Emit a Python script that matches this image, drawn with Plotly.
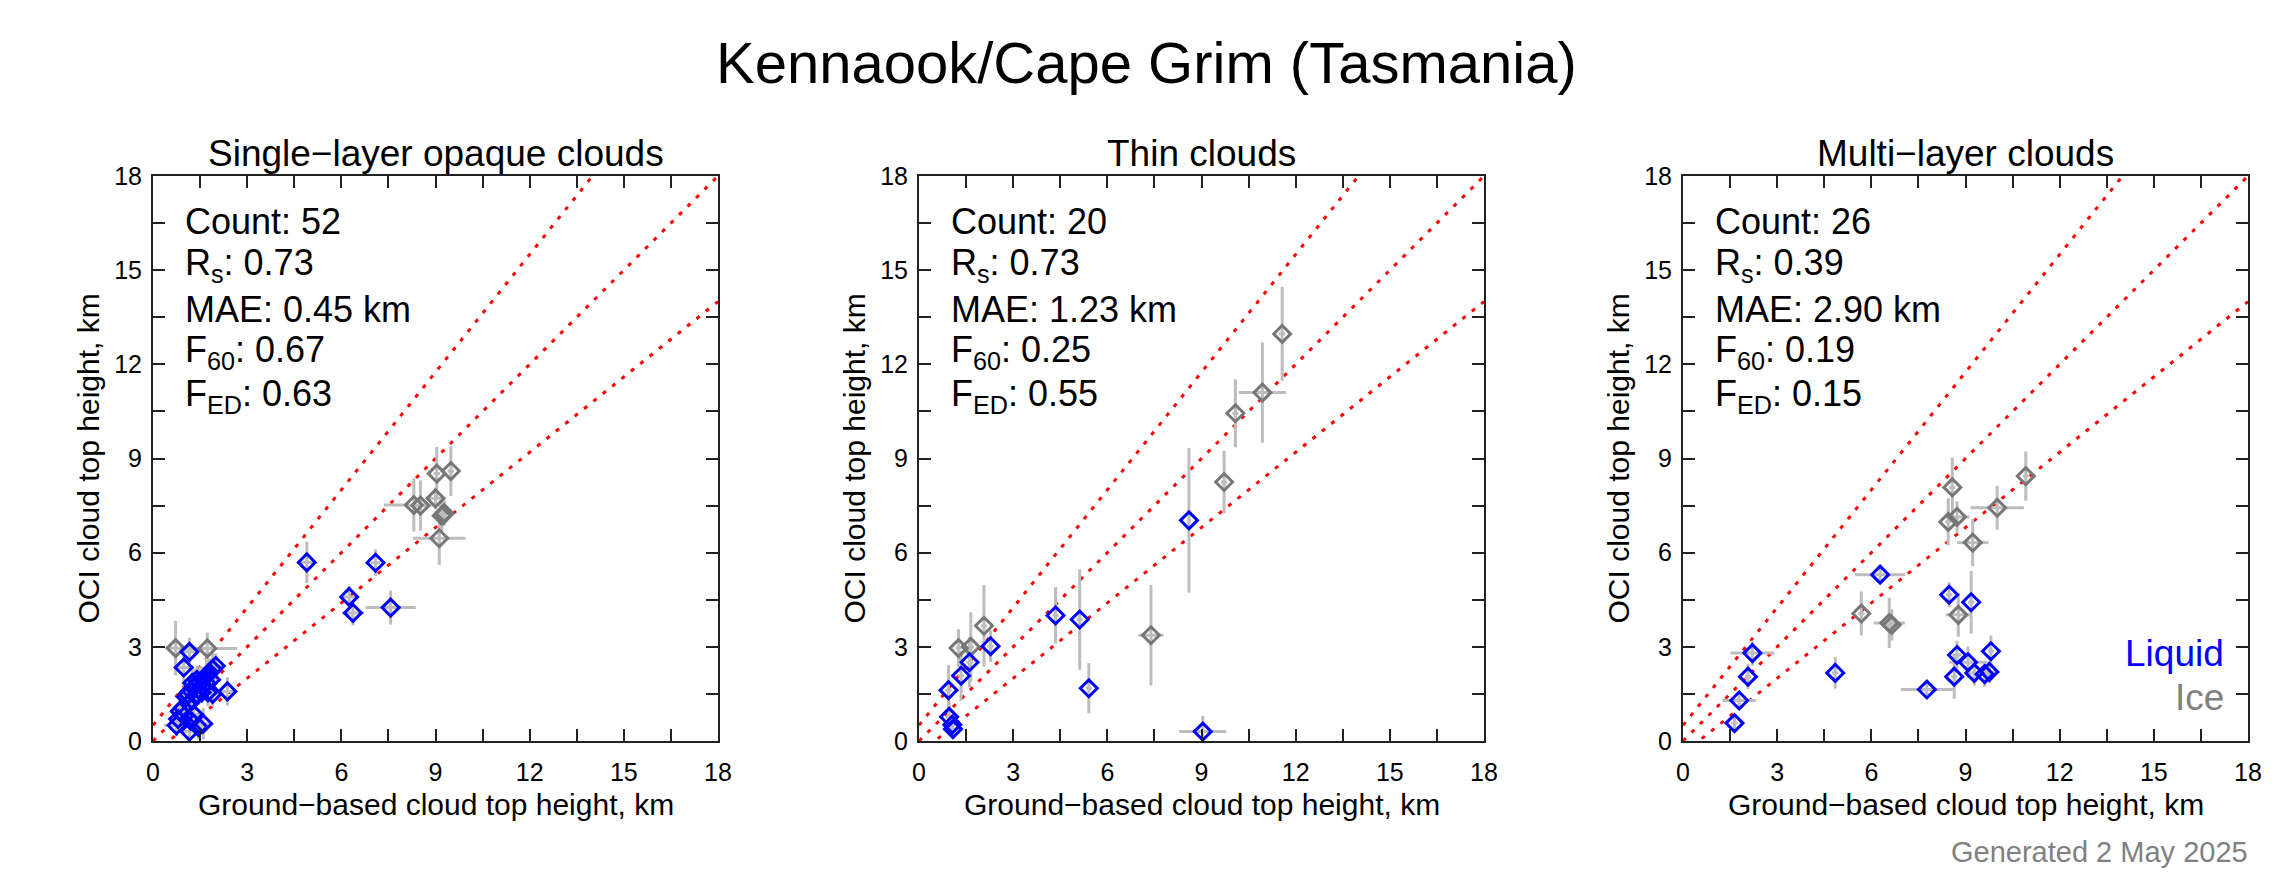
import plotly.graph_objects as go

# the page body has an 8px margin, so the figure is drawn 8px in from the corner
PAGE_W, PAGE_H, OFF = 2292, 887, 8
W, H = PAGE_W - 2 * OFF, PAGE_H - 2 * OFF
FONT = "Liberation Sans, Arial, Helvetica, sans-serif"

TITLE = "Kennaook/Cape Grim (Tasmania)"
PANEL_TITLES = ["Single\u2212layer opaque clouds", "Thin clouds", "Multi\u2212layer clouds"]
X_TITLE = "Ground\u2212based cloud top height, km"
Y_TITLE = "OCI cloud top height, km"
FOOTER = "Generated 2 May 2025"

TICK_VALS = [0, 3, 6, 9, 12, 15, 18]

# reference lines: (slope, intercept)
REF_LINES = [(1.25, 0.5), (1.0, 0.0), (0.8, -0.4)]

# stats per panel
COUNT = [52, 20, 26]
RS = [0.73, 0.73, 0.39]
MAE = [0.45, 1.23, 2.90]
F60 = [0.67, 0.25, 0.19]
FED = [0.63, 0.55, 0.15]

# ---- panel 1: single-layer opaque ----
p1_liq_x = [4.90, 7.09, 6.25, 6.37, 7.57, 1.16, 0.98, 2.37, 2.00, 1.90, 1.80, 1.70, 1.60, 1.50,
            1.40, 1.30, 1.20, 1.10, 1.05, 1.60, 1.45, 1.75, 1.90, 1.35, 1.25, 1.15, 1.55, 1.70,
            1.40, 0.95, 0.85, 0.80, 0.75, 1.16, 1.60, 1.45, 1.30, 1.20, 1.00, 1.85, 1.25]
p1_liq_y = [5.69, 5.68, 4.59, 4.08, 4.25, 2.84, 2.34, 1.58, 2.39, 2.29, 2.18, 2.08, 1.97, 1.88,
            1.80, 1.70, 1.60, 1.50, 1.40, 1.75, 1.65, 1.55, 1.50, 1.45, 1.30, 1.20, 1.55, 1.85,
            1.95, 1.05, 0.95, 0.70, 0.50, 0.30, 0.55, 0.45, 0.85, 0.65, 0.80, 1.95, 1.85]
p1_liq_xe = [0.20, 0.15, 0.20, 0.35, 0.80, 0.20, 0.20, 0.20, 0.25, 0.30, 0.20, 0.30, 0.25, 0.20,
             0.30, 0.20, 0.25, 0.30, 0.20, 0.25, 0.20, 0.30, 0.20, 0.25, 0.20, 0.30, 0.20, 0.25,
             0.20, 0.30, 0.25, 0.30, 0.40, 0.20, 0.30, 0.20, 0.25, 0.20, 0.30, 0.20, 0.25]
p1_liq_ye = [0.66, 0.42, 0.35, 0.40, 0.54, 0.45, 0.60, 0.45, 0.40, 0.50, 0.45, 0.55, 0.40, 0.50,
             0.45, 0.60, 0.40, 0.50, 0.45, 0.40, 0.50, 0.45, 0.40, 0.50, 0.45, 0.40, 0.35, 0.50,
             0.45, 0.40, 0.45, 0.40, 0.35, 0.30, 0.50, 0.40, 0.45, 0.35, 0.40, 0.45, 0.50]
p1_ice_x = [0.72, 1.73, 9.04, 9.49, 8.31, 8.52, 9.00, 9.20, 9.28, 9.25, 9.12]
p1_ice_y = [2.96, 2.95, 8.52, 8.60, 7.52, 7.50, 7.73, 7.18, 7.26, 7.20, 6.46]
p1_ice_xe = [0.30, 0.95, 0.10, 0.10, 0.95, 0.30, 0.30, 0.15, 0.10, 0.10, 0.84]
p1_ice_ye = [0.87, 0.50, 0.85, 0.80, 0.85, 0.80, 0.35, 0.50, 0.40, 0.30, 0.85]

# ---- panel 2: thin ----
p2_liq_x = [8.60, 4.35, 5.12, 5.41, 9.04, 2.28, 1.61, 1.34, 0.94, 0.96, 1.08, 1.06]
p2_liq_y = [7.03, 4.00, 3.87, 1.68, 0.30, 3.02, 2.51, 2.08, 1.62, 0.77, 0.38, 0.52]
p2_liq_xe = [0.05, 0.10, 0.10, 0.10, 0.75, 0.10, 0.10, 0.10, 0.10, 0.10, 0.10, 0.10]
p2_liq_ye = [2.30, 0.90, 1.60, 0.80, 0.50, 0.50, 0.80, 0.80, 0.80, 0.50, 0.30, 0.30]
p2_ice_x = [11.57, 10.94, 10.08, 9.72, 7.39, 2.07, 1.26, 1.65]
p2_ice_y = [12.97, 11.10, 10.44, 8.25, 3.37, 3.67, 2.96, 3.00]
p2_ice_xe = [0.10, 0.75, 0.10, 0.10, 0.40, 0.10, 0.10, 0.10]
p2_ice_ye = [1.50, 1.60, 1.08, 1.00, 1.60, 1.30, 0.60, 1.10]

# ---- panel 3: multi-layer ----
p3_liq_x = [6.28, 8.48, 9.18, 4.85, 7.77, 8.64, 8.73, 9.08, 9.28, 9.61, 9.76, 9.81, 2.21, 2.07, 1.79, 1.64]
p3_liq_y = [5.30, 4.66, 4.42, 2.17, 1.64, 2.05, 2.74, 2.51, 2.17, 2.13, 2.20, 2.86, 2.80, 2.05, 1.29, 0.57]
p3_liq_xe = [0.80, 0.10, 0.10, 0.10, 0.83, 0.10, 0.15, 0.60, 0.20, 0.30, 0.20, 0.10, 0.70, 0.10, 0.53, 0.10]
p3_liq_ye = [0.25, 0.40, 1.00, 0.50, 0.20, 0.70, 0.45, 0.50, 0.40, 0.40, 0.35, 0.50, 0.40, 0.40, 0.30, 0.30]
p3_ice_x = [10.92, 10.01, 8.58, 8.45, 8.73, 9.23, 5.68, 6.57, 6.65, 8.77]
p3_ice_y = [8.44, 7.43, 8.08, 6.98, 7.14, 6.32, 4.06, 3.76, 3.70, 4.02]
p3_ice_xe = [0.10, 0.85, 0.10, 0.10, 0.40, 0.50, 0.10, 0.50, 0.20, 0.40]
p3_ice_ye = [0.78, 0.70, 0.95, 0.75, 0.50, 0.75, 0.70, 0.80, 0.50, 0.70]

panels = [
    (p1_liq_x, p1_liq_y, p1_liq_xe, p1_liq_ye, p1_ice_x, p1_ice_y, p1_ice_xe, p1_ice_ye),
    (p2_liq_x, p2_liq_y, p2_liq_xe, p2_liq_ye, p2_ice_x, p2_ice_y, p2_ice_xe, p2_ice_ye),
    (p3_liq_x, p3_liq_y, p3_liq_xe, p3_liq_ye, p3_ice_x, p3_ice_y, p3_ice_xe, p3_ice_ye),
]

LIQ = "#0000ff"
ICE = "#777777"
ERR = "#bdbdbd"
AXC = "#222222"

# plot area pixel boxes (page coordinates)
LEFTS = [153, 919, 1683]
PW = 565
TOP, BOTTOM = 176, 741


def px(v):
    # page x pixel -> paper fraction
    return (v - OFF) / W


def py(v):
    # page y pixel -> paper fraction
    return 1 - (v - OFF) / H


fig = go.Figure()
layout = {}

for i, (lx, ly, lxe, lye, ix, iy, ixe, iye) in enumerate(panels):
    n = "" if i == 0 else str(i + 1)
    xa, ya = "x" + n, "y" + n
    axis_common = dict(
        range=[0, 18], tickvals=TICK_VALS, automargin=False,
        ticks="inside", ticklen=12, tickwidth=1.5, tickcolor=AXC,
        minor=dict(dtick=1.5, ticks="inside", ticklen=12, tickwidth=1.5, tickcolor=AXC),
        showline=True, linecolor=AXC, linewidth=2, mirror="allticks",
        showgrid=False, zeroline=False, tickfont=dict(size=25, color="black"),
    )
    layout["xaxis" + n] = dict(domain=[px(LEFTS[i]), px(LEFTS[i] + PW)], anchor=ya,
                               ticklabelstandoff=8, **axis_common)
    layout["yaxis" + n] = dict(domain=[py(BOTTOM), py(TOP)], anchor=xa,
                               ticklabelstandoff=4, **axis_common)

    # reference lines
    for slope, icpt in REF_LINES:
        fig.add_trace(go.Scatter(
            x=[0, 18], y=[icpt, slope * 18 + icpt], mode="lines", xaxis=xa, yaxis=ya,
            line=dict(color="red", width=3, dash="4px,8px"), showlegend=False, hoverinfo="skip",
        ))

    # error bars underneath all markers
    for xs, ys, xes, yes in [(lx, ly, lxe, lye), (ix, iy, ixe, iye)]:
        fig.add_trace(go.Scatter(
            x=xs, y=ys, mode="markers", xaxis=xa, yaxis=ya,
            marker=dict(size=1, color="rgba(0,0,0,0)"),
            error_x=dict(type="data", array=xes, color=ERR, thickness=3, width=0),
            error_y=dict(type="data", array=yes, color=ERR, thickness=3, width=0),
            showlegend=False, hoverinfo="skip",
        ))

    for xs, ys, col in [(ix, iy, ICE), (lx, ly, LIQ)]:
        fig.add_trace(go.Scatter(
            x=xs, y=ys, mode="markers", xaxis=xa, yaxis=ya,
            marker=dict(symbol="diamond-open", size=13, color=col, line=dict(width=3, color=col)),
            showlegend=False,
        ))

annotations = []
annotations.append(dict(
    text=TITLE, x=0.5 * (PAGE_W - 2 * OFF) / W, y=py(62), xref="paper", yref="paper",
    showarrow=False, font=dict(size=58, color="black"), xanchor="center", yanchor="middle",
))
for i in range(3):
    n = "" if i == 0 else str(i + 1)
    xd, yd = "x" + n + " domain", "y" + n + " domain"
    xa, ya = "x" + n, "y" + n
    annotations.append(dict(
        text=PANEL_TITLES[i], x=0.5, y=py(153), xref=xd, yref="paper", showarrow=False,
        font=dict(size=37, color="black"), xanchor="center", yanchor="middle",
    ))
    annotations.append(dict(
        text=X_TITLE, x=0.5, y=py(804), xref=xd, yref="paper", showarrow=False,
        font=dict(size=30, color="black"), xanchor="center", yanchor="middle",
    ))
    annotations.append(dict(
        text=Y_TITLE, x=px(LEFTS[i] - 65), y=0.5, xref="paper", yref=yd, showarrow=False,
        font=dict(size=30, color="black"), xanchor="center", yanchor="middle", textangle=-90,
    ))
    stats = [
        ("Count: %d" % COUNT[i], 16.55),
        ("R<sub>s</sub>: %.2f" % RS[i], 15.15),
        ("MAE: %.2f km" % MAE[i], 13.75),
        ("F<sub>60</sub>: %.2f" % F60[i], 12.38),
        ("F<sub>ED</sub>: %.2f" % FED[i], 11.0),
    ]
    for txt, yv in stats:
        annotations.append(dict(
            text=txt, x=0.95, y=yv, xref=xa, yref=ya, showarrow=False,
            font=dict(size=36, color="black"), xanchor="left", yanchor="middle",
        ))

annotations.append(dict(
    text="Liquid", x=17.3, y=2.78, xref="x3", yref="y3", showarrow=False,
    font=dict(size=37, color=LIQ), xanchor="right", yanchor="middle",
))
annotations.append(dict(
    text="Ice", x=17.3, y=1.38, xref="x3", yref="y3", showarrow=False,
    font=dict(size=37, color="#808080"), xanchor="right", yanchor="middle",
))
annotations.append(dict(
    text=FOOTER, x=px(2250), y=py(852), xref="paper", yref="paper", showarrow=False,
    font=dict(size=29, color="#808080"), xanchor="right", yanchor="middle",
))

fig.update_layout(
    template="none",
    width=W, height=H, margin=dict(l=0, r=0, t=0, b=0, pad=0),
    paper_bgcolor="white", plot_bgcolor="white",
    font=dict(family=FONT, color="black"),
    annotations=annotations, showlegend=False,
    **layout,
)

fig.write_html("out.html")
